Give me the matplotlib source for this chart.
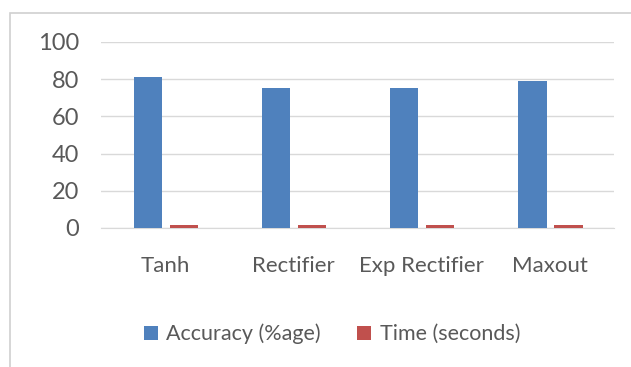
import numpy as np
import matplotlib
matplotlib.use('Agg')
import matplotlib.pyplot as plt
from matplotlib.patches import Rectangle

categories = ['Tanh', 'Rectifier', 'Exp Rectifier', 'Maxout']
accuracy = [81, 75, 75, 79]
time_sec = [1.8, 1.8, 1.8, 1.8]
yticks = [0, 20, 40, 60, 80, 100]

plt.rcParams['font.family'] = ['Lato', 'DejaVu Sans']
txt = '#595959'

fig = plt.figure(figsize=(6.31, 3.67), dpi=100)
fig.patches.append(Rectangle((10 / 631, -0.1), 1.1, 1 - 13 / 367 + 0.1,
                             transform=fig.transFigure, fill=False,
                             edgecolor='#d0d0d0', linewidth=1.2))
ax = fig.add_axes([101 / 631, 1 - 228 / 367, (614 - 101) / 631, (228 - 42) / 367])

x = np.arange(len(categories))
w = 0.22
ax.bar(x - 0.135, accuracy, w, color='#4f81bd', label='Accuracy (%age)', zorder=3)
ax.bar(x + 0.145, time_sec, w, color='#c0504d', label='Time (seconds)', zorder=3)

ax.set_xlim(-0.5, len(categories) - 0.5)
ax.set_ylim(0, 100)
ax.set_yticks(yticks)
ax.set_xticks(x)
ax.set_xticklabels(categories)
ax.yaxis.grid(True, color='#d9d9d9', linewidth=1, zorder=0)
for s in ['top', 'right', 'left']:
    ax.spines[s].set_visible(False)
ax.spines['bottom'].set_color('#d9d9d9')
ax.tick_params(axis='both', length=0, colors=txt)
ax.tick_params(axis='y', pad=16, labelsize=17)
ax.tick_params(axis='x', pad=20, labelsize=16)

ax.legend(loc='center', bbox_to_anchor=(332 / 631, 1 - 334 / 367),
          bbox_transform=fig.transFigure, ncol=2, frameon=False,
          fontsize=15.5, labelcolor=txt, handlelength=0.65, handleheight=0.65,
          handletextpad=0.4, columnspacing=1.7)

fig.savefig('out.png', dpi=100)
